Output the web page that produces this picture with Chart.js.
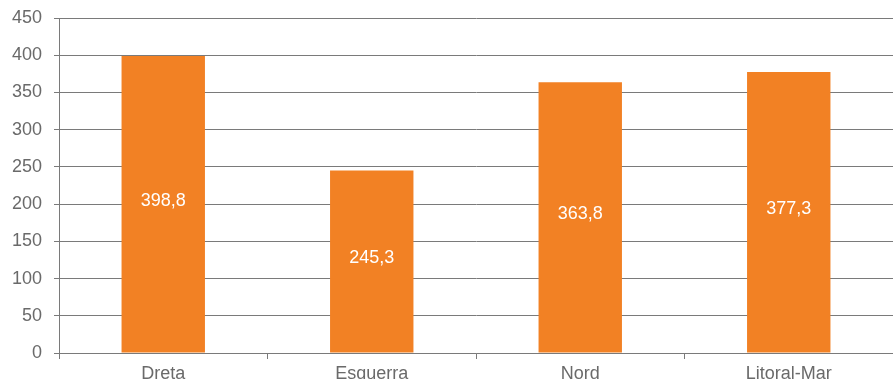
<!DOCTYPE html>
<html>
<head>
<meta charset="utf-8">
<script src="https://cdn.jsdelivr.net/npm/chart.js@4"></script>
<style>
  html, body { margin: 0; padding: 0; background: #fff; overflow: hidden; }
  #wrap { position: relative; width: 893px; height: 379px; }
</style>
</head>
<body>
<div id="wrap"><canvas id="barChart"></canvas></div>
<script>
  // data
  const categories = ["Dreta", "Esquerra", "Nord", "Litoral-Mar"];
  const values = [398.8, 245.3, 363.8, 377.3];
  const yTicks = [0, 50, 100, 150, 200, 250, 300, 350, 400, 450];

  const fontFamily = "'Liberation Sans', Arial, Helvetica, sans-serif";

  // labels inside the bars, centred
  const barLabels = {
    id: 'barLabels',
    afterDatasetsDraw(chart) {
      const ctx = chart.ctx;
      const meta = chart.getDatasetMeta(0);
      ctx.save();
      ctx.fillStyle = '#ffffff';
      ctx.font = '18px ' + fontFamily;
      ctx.textAlign = 'center';
      ctx.textBaseline = 'middle';
      meta.data.forEach((bar, i) => {
        const y = (bar.y + bar.base) / 2;
        ctx.fillText(values[i].toFixed(1).replace('.', ','), bar.x, y - 3);
      });
      ctx.restore();
    }
  };

  const data = {
    labels: categories,
    datasets: [{
      data: values,
      backgroundColor: '#F28124',
      borderWidth: 0,
      categoryPercentage: 1,
      barPercentage: 0.4,
    }]
  };

  const config = {
    type: 'bar',
    data,
    options: {
      responsive: true,
      maintainAspectRatio: false,
      animation: false,
      layout: { padding: { top: 18, right: 0, left: 0, bottom: 0 } },
      plugins: {
        legend: { display: false },
        tooltip: { enabled: false }
      },
      scales: {
        x: {
          offset: true,
          grid: {
            offset: true,
            drawOnChartArea: false,
            drawTicks: true,
            tickLength: 6,
            color: '#7a7a7a'
          },
          border: { color: '#7a7a7a', width: 1 },
          ticks: {
            color: '#6a6a6a',
            font: { family: fontFamily, size: 18 },
            padding: 4,
            maxRotation: 0
          },
          afterFit(scale) {
            scale.height = 26;
            scale.paddingLeft = 0;
            scale.paddingRight = 0;
          }
        },
        y: {
          min: 0,
          max: 450,
          afterBuildTicks(scale) { scale.ticks = yTicks.map(v => ({ value: v })); },
          grid: {
            color: '#7a7a7a',
            tickLength: 5,
            lineWidth: 1
          },
          border: { color: '#7a7a7a', width: 1 },
          ticks: {
            color: '#6a6a6a',
            font: { family: fontFamily, size: 18 },
            padding: 12
          },
          afterFit(scale) {
            scale.width = 59;
            scale.paddingTop = 0;
            scale.paddingBottom = 0;
          }
        }
      }
    },
    plugins: [barLabels]
  };

  // render
  const barChart = new Chart(document.getElementById('barChart').getContext('2d'), config);
</script>
</body>
</html>
